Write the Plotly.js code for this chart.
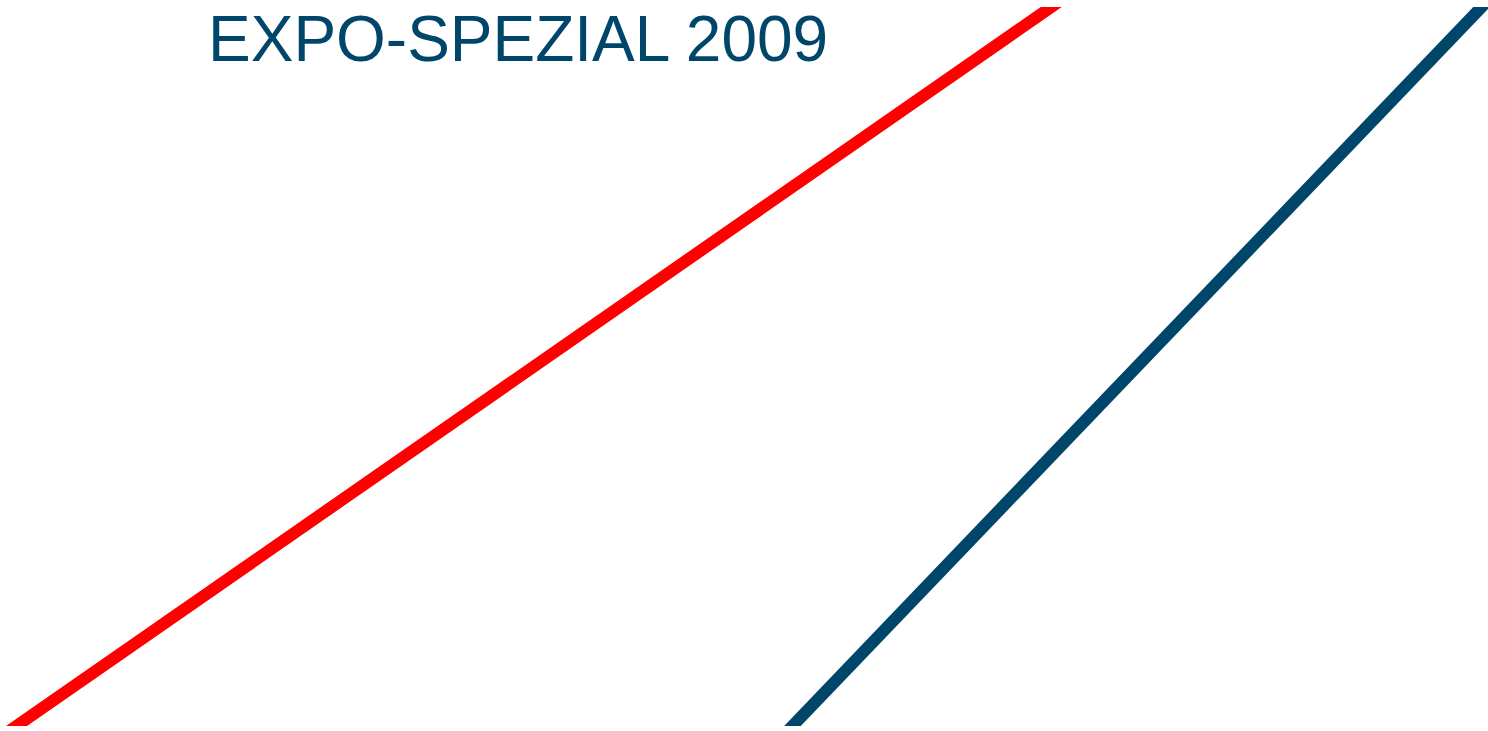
<!DOCTYPE html>
<html>
<head>
<meta charset="utf-8">
<script src="https://cdn.plot.ly/plotly-3.0.1.min.js"></script>
<style>html,body{margin:0;padding:0;background:#fff;}#chart{width:1488px;height:731px;}</style>
</head>
<body>
<div id="chart"></div>
<script>
const titleText = "EXPO-SPEZIAL 2009";
const redX = [-12.3, 1081.5];
const redY = [-20, 740];
const blueX = [773.3, 1501.7];
const blueY = [-20, 740];

const traces = [
  {x: redX, y: redY, mode: 'lines', line: {color: '#ff0000', width: 12}, hoverinfo: 'skip', showlegend: false},
  {x: blueX, y: blueY, mode: 'lines', line: {color: '#00466a', width: 12}, hoverinfo: 'skip', showlegend: false}
];
const layout = {
  width: 1488, height: 731,
  margin: {l: 0, r: 0, t: 7, b: 5, pad: 0},
  paper_bgcolor: '#ffffff', plot_bgcolor: '#ffffff',
  xaxis: {range: [0, 1488], visible: false, fixedrange: true},
  yaxis: {range: [0, 719], visible: false, fixedrange: true},
  annotations: [{
    text: titleText, xref: 'paper', yref: 'paper', x: 210/1488, y: 1.0,
    xshift: -4, yshift: 6,
    xanchor: 'left', yanchor: 'top', showarrow: false,
    font: {family: 'Liberation Sans, Arial, sans-serif', size: 64, color: '#00466a'}
  }]
};
Plotly.newPlot('chart', traces, layout, {displayModeBar: false, staticPlot: true});
</script>
</body>
</html>
